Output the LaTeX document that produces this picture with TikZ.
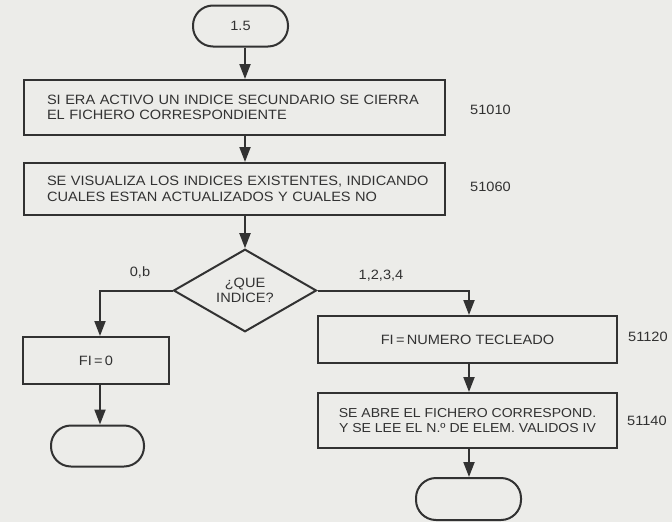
\documentclass[tikz,border=0pt]{standalone}
\usepackage{fontspec}
\setmainfont{Liberation Sans}[FakeStretch=1.08]
\usetikzlibrary{arrows.meta,shapes.geometric,calc}
\definecolor{paper}{RGB}{236,236,233}
\definecolor{ink}{RGB}{50,50,50}
\tikzset{
  every node/.style={font=\fontsize{13.5}{15.5}\selectfont, text=ink},
  boxnode/.style={draw=ink, line width=2pt, rectangle, inner sep=0pt},
  termnode/.style={draw=ink, line width=2pt, rectangle, rounded corners=20pt, minimum width=95pt, minimum height=41pt, inner sep=0pt},
  decnode/.style={draw=ink, line width=2pt, diamond, minimum width=143pt, minimum height=75pt, inner sep=0pt, align=center},
  flow/.style={draw=ink, line width=2pt, -{Triangle[width=11pt,length=15pt]}},
  lbl/.style={inner sep=0pt, anchor=west},
}
\begin{document}
\begin{tikzpicture}[x=1pt,y=-1pt]
\fill[paper] (0,0) rectangle (672,522);
\useasboundingbox (0,0) rectangle (672,522);
% start
\node[termnode] (t0) at (240.5,26) {1.5};
\node[boxnode, minimum width=421pt, minimum height=55pt, text width=375pt, align=left] (b1) at (234.5,107.5)
  {\mbox{SI ERA ACTIVO UN INDICE SECUNDARIO SE CIERRA}\\\mbox{EL FICHERO CORRESPONDIENTE}};
\node[lbl] (n1) at (470,110) {51010};
\node[boxnode, minimum width=421pt, minimum height=52pt, text width=375pt, align=left] (b2) at (234.5,189)
  {\mbox{SE VISUALIZA LOS INDICES EXISTENTES, INDICANDO}\\\mbox{CUALES ESTAN ACTUALIZADOS Y CUALES NO}};
\node[lbl] (n2) at (470,187) {51060};
\node[decnode] (d) at (245,290.5) {¿QUE\\INDICE?};
% left branch
\node[boxnode, minimum width=146pt, minimum height=47pt] (b3) at (96,360.5) {FI\,=\,0};
\node[termnode, minimum width=93pt] (t1) at (97.5,446) {};
% right branch
\node[boxnode, minimum width=299pt, minimum height=47pt] (b4) at (467.5,339.5) {FI\,=\,NUMERO TECLEADO};
\node[lbl] (n4) at (628,337) {51120};
\node[boxnode, minimum width=299pt, minimum height=55pt, align=center, font=\fontsize{13}{15.5}\selectfont] (b5) at (467.5,420.5)
  {SE ABRE EL FICHERO CORRESPOND.\\Y SE LEE EL N.º DE ELEM. VALIDOS IV};
\node[lbl] (n5) at (627,421) {51140};
\node[termnode, minimum width=105pt, minimum height=42pt] (t2) at (468.5,499) {};
% labels on branches
\node[inner sep=0pt] (l0) at (140,272) {0,b};
\node[inner sep=0pt] (l1) at (381,276) {1,2,3,4};
% column coordinates
\coordinate (cm) at (245,0);
\coordinate (cl) at (100,0);
\coordinate (cr) at (469,0);
% connectors
\draw[flow] (cm |- t0.south) -- (cm |- b1.north);
\draw[flow] (cm |- b1.south) -- (cm |- b2.north);
\draw[flow] (cm |- b2.south) -- (d.north);
\draw[flow] (d.west) -| (cl |- b3.north);
\draw[flow] (cl |- b3.south) -- (cl |- t1.north);
\draw[flow] (d.east) -| (cr |- b4.north);
\draw[flow] (cr |- b4.south) -- (cr |- b5.north);
\draw[flow] (cr |- b5.south) -- (cr |- t2.north);
\end{tikzpicture}
\end{document}
